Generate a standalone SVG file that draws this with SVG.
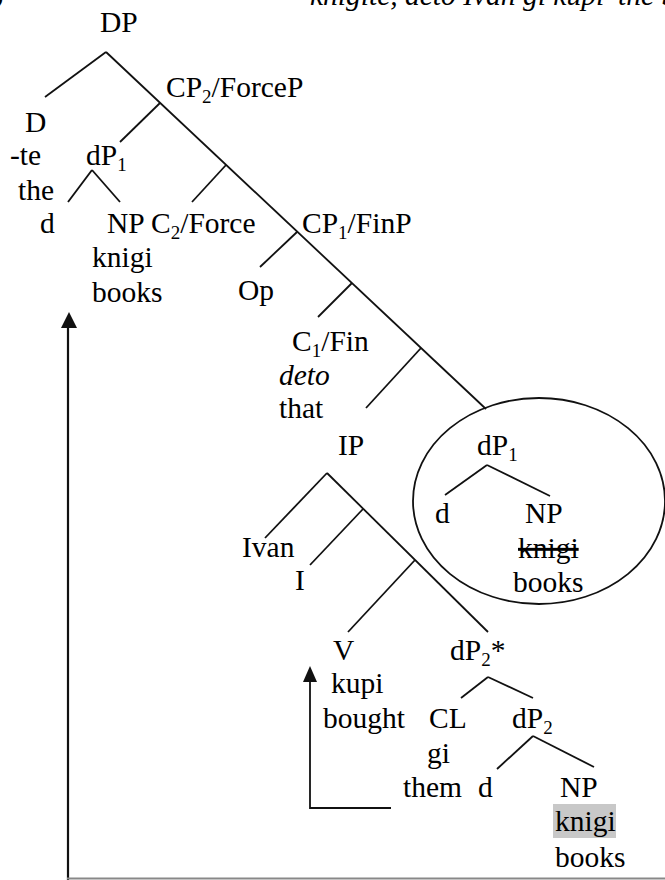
<svg xmlns="http://www.w3.org/2000/svg" width="665" height="880" viewBox="0 0 665 880">
<defs>
<style>
text{font-family:"Liberation Serif","Times New Roman",serif;font-size:29.5px;fill:#000}
.it{font-style:italic}
.sub{font-size:19px}
.e{stroke:#111;stroke-width:1.8;fill:none}
</style>
</defs>
<rect width="665" height="880" fill="#fff"/>
<text x="-6" y="3">)</text>
<text class="it" x="310" y="5">knigite, deto Ivan gi kupi’ the b</text>

<g id="connectors">
<line class="e" x1="106" y1="52" x2="486" y2="409"/>
<line class="e" x1="106" y1="52" x2="45" y2="97"/>
<line class="e" x1="160" y1="103" x2="120" y2="142"/>
<line class="e" x1="92" y1="170" x2="68" y2="202"/>
<line class="e" x1="92" y1="170" x2="120" y2="202"/>
<line class="e" x1="226" y1="165" x2="192" y2="202"/>
<line class="e" x1="297" y1="232" x2="260" y2="267"/>
<line class="e" x1="352" y1="283" x2="318" y2="317"/>
<line class="e" x1="421" y1="348" x2="366" y2="408"/>
<line class="e" x1="327" y1="473" x2="265" y2="538"/>
<line class="e" x1="327" y1="473" x2="488" y2="632"/>
<line class="e" x1="363" y1="509" x2="310" y2="565"/>
<line class="e" x1="415" y1="560" x2="348" y2="632"/>
<line class="e" x1="488" y1="677" x2="461" y2="698"/>
<line class="e" x1="488" y1="677" x2="533" y2="698"/>
<line class="e" x1="533" y1="736" x2="497" y2="769"/>
<line class="e" x1="533" y1="736" x2="594" y2="767"/>
<line class="e" x1="487" y1="465" x2="445" y2="495"/>
<line class="e" x1="487" y1="465" x2="550" y2="496"/>
<ellipse class="e" cx="539" cy="501" rx="126" ry="103"/>
<polyline class="e" points="391,808 310,808 310,680"/>
<polygon points="310,666 303,682 317,682" fill="#111"/>
<line x1="68" y1="880" x2="68" y2="326" stroke="#111" stroke-width="2.2"/>
<polygon points="69,312 61,328 77,328" fill="#111"/>
<line x1="67" y1="878.5" x2="665" y2="878.5" stroke="#888" stroke-width="2"/>
</g>

<g id="DP"><text x="100" y="32">DP</text></g>
<g id="CP2"><text x="166" y="97">CP<tspan class="sub" dy="6">2</tspan><tspan dy="-6">/ForceP</tspan></text></g>
<g id="D"><text x="25" y="132">D</text><text x="10" y="165">-te</text><text x="18" y="200">the</text></g>
<g id="dP1a"><text x="86" y="165">dP<tspan class="sub" dy="6">1</tspan></text></g>
<g id="d1"><text x="40" y="233">d</text></g>
<g id="NP1"><text x="107" y="233">NP</text><text x="92" y="267">knigi</text><text x="92" y="302">books</text></g>
<g id="C2"><text x="151" y="233">C<tspan class="sub" dy="6">2</tspan><tspan dy="-6">/Force</tspan></text></g>
<g id="CP1"><text x="302" y="233">CP<tspan class="sub" dy="6">1</tspan><tspan dy="-6">/FinP</tspan></text></g>
<g id="Op"><text x="238" y="300">Op</text></g>
<g id="C1"><text x="292" y="351">C<tspan class="sub" dy="6">1</tspan><tspan dy="-6">/Fin</tspan></text><text class="it" x="279" y="385">deto</text><text x="279" y="418">that</text></g>
<g id="IP"><text x="338" y="455">IP</text></g>
<g id="dP1b"><text x="477" y="455">dP<tspan class="sub" dy="6">1</tspan></text></g>
<g id="d2"><text x="435" y="523">d</text></g>
<g id="NP2"><text x="525" y="523">NP</text><text x="518" y="558" text-decoration="line-through">knigi</text><text x="513" y="592">books</text></g>
<g id="Ivan"><text x="242" y="557">Ivan</text></g>
<g id="I"><text x="295" y="590">I</text></g>
<g id="V"><text x="333" y="660">V</text><text x="331" y="693">kupi</text><text x="323" y="728">bought</text></g>
<g id="dP2star"><text x="450" y="660">dP<tspan class="sub" dy="6">2</tspan><tspan dy="-6">*</tspan></text></g>
<g id="CL"><text x="429" y="728">CL</text><text x="427" y="763">gi</text><text x="403" y="797">them</text></g>
<g id="dP2"><text x="512" y="728">dP<tspan class="sub" dy="6">2</tspan></text></g>
<g id="d3"><text x="478" y="797">d</text></g>
<g id="NP3"><rect x="553" y="804" width="63" height="34" fill="#c8c8c8"/><text x="560" y="797">NP</text><text x="555" y="831">knigi</text><text x="555" y="867">books</text></g>
</svg>
